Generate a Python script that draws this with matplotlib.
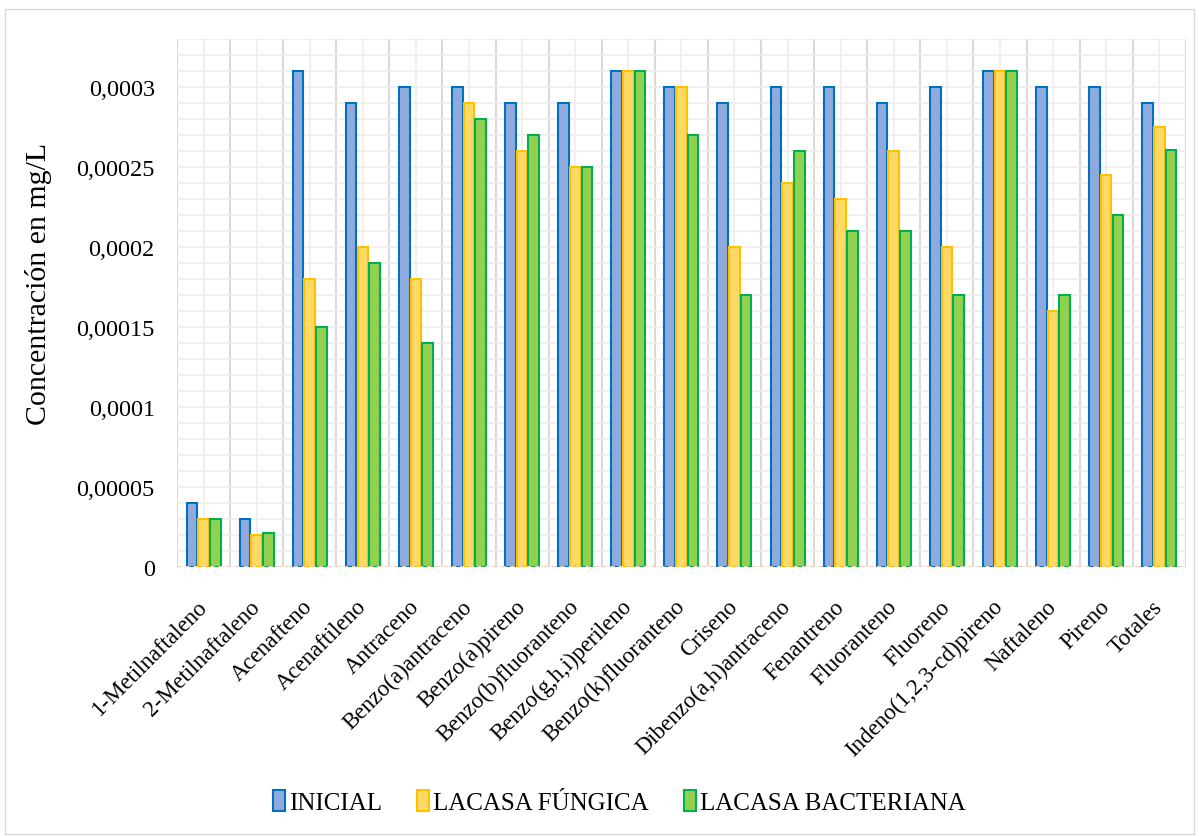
import numpy as np
import matplotlib.pyplot as plt
from matplotlib.ticker import FuncFormatter, MultipleLocator
from matplotlib.patches import Rectangle

plt.rcParams['font.family'] = ['Liberation Serif', 'DejaVu Serif']

categorias = ['1-Metilnaftaleno', '2-Metilnaftaleno', 'Acenafteno', 'Acenaftileno',
              'Antraceno', 'Benzo(a)antraceno', 'Benzo(a)pireno', 'Benzo(b)fluoranteno',
              'Benzo(g,h,i)perileno', 'Benzo(k)fluoranteno', 'Criseno',
              'Dibenzo(a,h)antraceno', 'Fenantreno', 'Fluoranteno', 'Fluoreno',
              'Indeno(1,2,3-cd)pireno', 'Naftaleno', 'Pireno', 'Totales']
inicial = [0.00004, 0.00003, 0.00031, 0.00029, 0.0003, 0.0003, 0.00029, 0.00029, 0.00031,
           0.0003, 0.00029, 0.0003, 0.0003, 0.00029, 0.0003, 0.00031, 0.0003, 0.0003, 0.00029]
fungica = [0.00003, 0.00002, 0.00018, 0.0002, 0.00018, 0.00029, 0.00026, 0.00025, 0.00031,
           0.0003, 0.0002, 0.00024, 0.00023, 0.00026, 0.0002, 0.00031, 0.00016, 0.000245, 0.000275]
bacteriana = [0.00003, 0.000021, 0.00015, 0.00019, 0.00014, 0.00028, 0.00027, 0.00025, 0.00031,
              0.00027, 0.00017, 0.00026, 0.00021, 0.00021, 0.00017, 0.00031, 0.00017, 0.00022, 0.000261]

fig = plt.figure(figsize=(11.99, 8.37), dpi=100)
ax = fig.add_axes([0.1476, 0.3214, 0.8414, 0.6306])

x = np.arange(len(categorias))
w = 0.2
series = [(inicial, 'INICIAL', '#8FAADC', '#0070C0'),
          (fungica, 'LACASA FÚNGICA', '#FFD966', '#FFC000'),
          (bacteriana, 'LACASA BACTERIANA', '#92D050', '#00B050')]
for i, (vals, lab, fc, ec) in enumerate(series):
    ax.bar(x + (i - 1) * (w + 0.02), vals, w, color=fc, edgecolor=ec, linewidth=1.5,
           label=lab, zorder=3)

ax.set_xlim(-0.5, len(categorias) - 0.5)
ax.set_ylim(0, 0.00033)
ax.yaxis.set_major_locator(MultipleLocator(0.00005))
ax.yaxis.set_minor_locator(MultipleLocator(0.00001))


def fmt(v, p):
    if abs(v) < 1e-12:
        return '0'
    s = ('%.5f' % v).rstrip('0')
    return s.replace('.', ',')


ax.yaxis.set_major_formatter(FuncFormatter(fmt))
ax.grid(axis='y', which='both', color='#EDEDED', linewidth=1.2, zorder=0)
# vertical grid: boundaries darker, centers lighter
for b in np.arange(-0.5, len(categorias), 1.0):
    ax.axvline(b, color='#D9D9D9', linewidth=1.5, zorder=1)
for c in x:
    ax.axvline(c, color='#EDEDED', linewidth=1.2, zorder=1)
ax.axhline(0, color='#F8CBAD', linewidth=1.5, linestyle=(0, (2, 2)), zorder=4)

ax.set_xticks(x)
ax.set_xticklabels(categorias, rotation=45, ha='right', va='center',
                   rotation_mode='anchor', fontsize=16.5)
ax.tick_params(axis='x', length=0, pad=26)
ax.tick_params(axis='y', which='both', length=0, labelsize=17.5, pad=16)
for s in ax.spines.values():
    s.set_visible(False)
fig.text(0.032, 0.661, 'Concentración en mg/L', rotation=90, fontsize=21.5,
         ha='center', va='center')

ax.legend(loc='center', bbox_to_anchor=(0.5165, 0.0406), bbox_transform=fig.transFigure,
          ncol=3, frameon=False, fontsize=18, handlelength=0.5, handleheight=0.9,
          columnspacing=1.4, handletextpad=0.15)

fig.patches.append(Rectangle((0.004, 0.002), 0.992, 0.986, transform=fig.transFigure,
                             fill=False, edgecolor='#D9D9D9', linewidth=1))
fig.savefig('out.png', dpi=100)
